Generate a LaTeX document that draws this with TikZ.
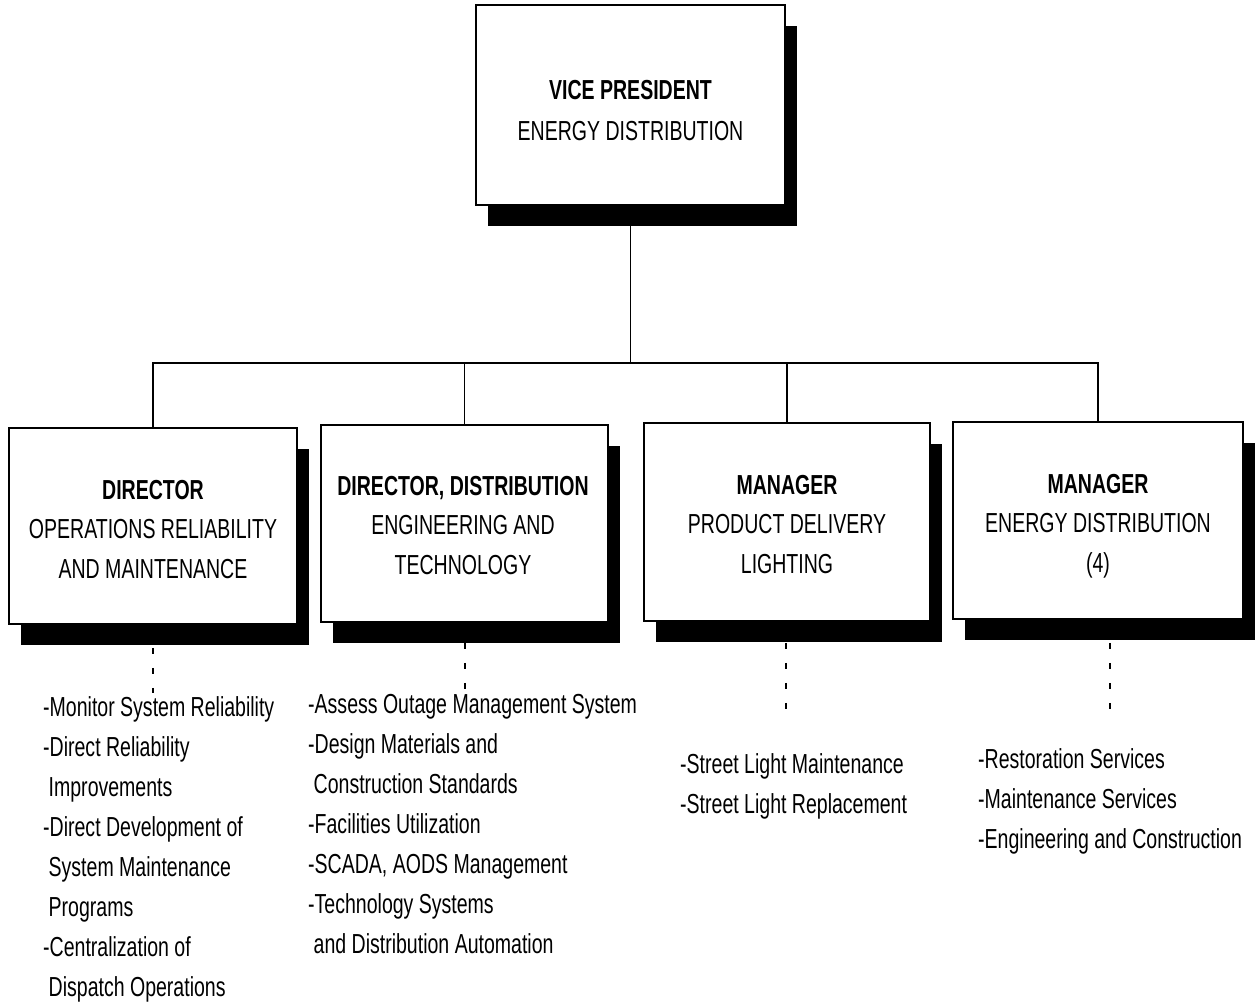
\documentclass[tikz,border=0pt]{standalone}
\usepackage{fontspec}
\setmainfont{Liberation Sans}[FakeStretch=0.71]
\usetikzlibrary{shadows}
\tikzset{
  orgbox/.style={draw=black, line width=1.8pt, fill=white, inner sep=0pt,
    drop shadow={shadow xshift=12pt, shadow yshift=-21pt, fill=black, opacity=1}},
  boxtext/.style={anchor=base, align=center, inner sep=0pt,
    font=\fontsize{27.5pt}{39.5pt}\selectfont},
  listtext/.style={anchor=base west, align=left, inner sep=0pt,
    font=\fontsize{27.5pt}{40pt}\selectfont},
  conn/.style={line width=1.8pt},
  dots/.style={line width=2.6pt, dash pattern=on 6pt off 14pt}
}
\newcommand{\ind}{\hspace*{5.5pt}}
\begin{document}
\begin{tikzpicture}[x=1pt,y=-1pt]
\useasboundingbox[fill=white] (0,0) rectangle (1256,1003);

% boxes
\node[orgbox, minimum width=309pt, minimum height=200pt] (vp) at (630.5,105) {};
\node[orgbox, minimum width=288pt, minimum height=196pt] (d1) at (153,526) {};
\node[orgbox, minimum width=287pt, minimum height=197pt] (d2) at (464.5,523.5) {};
\node[orgbox, minimum width=286pt, minimum height=198pt] (m1) at (787,522) {};
\node[orgbox, minimum width=290pt, minimum height=197pt] (m2) at (1098,520.5) {};

% box texts (anchored at the baseline of their last line)
\node[boxtext, font=\fontsize{27.5pt}{41pt}\selectfont] (vpt) at (630.5,141) {\textbf{VICE PRESIDENT}\\ENERGY DISTRIBUTION};
\node[boxtext] (d1t) at (153,578) {\textbf{DIRECTOR}\\OPERATIONS RELIABILITY\\AND MAINTENANCE};
\node[boxtext] (d2t) at (463,574) {\textbf{DIRECTOR, DISTRIBUTION}\\ENGINEERING AND\\TECHNOLOGY};
\node[boxtext] (m1t) at (787,573) {\textbf{MANAGER}\\PRODUCT DELIVERY\\LIGHTING};
\node[boxtext] (m2t) at (1098,572) {\textbf{MANAGER}\\ENERGY DISTRIBUTION\\(4)};

% connectors
\coordinate (bus) at (630.5,363);
\draw[conn] (vp.south) -- (bus);
\draw[conn] (d1.north) -- (d1.north |- bus) -- (m2.north |- bus) -- (m2.north);
\draw[conn] (d2.north) -- (d2.north |- bus);
\draw[conn] (m1.north) -- (m1.north |- bus);

% dotted links to task lists
\coordinate (e1) at (153,693);
\coordinate (e2) at (465,700);
\coordinate (e3) at (786,714);
\coordinate (e4) at (1110,712);
\draw[dots] ([yshift=-23pt]d1.south) -- (e1);
\draw[dots] ([xshift=0.5pt,yshift=-20pt]d2.south) -- (e2);
\draw[dots] ([xshift=-1pt,yshift=-21pt]m1.south) -- (e3);
\draw[dots] ([xshift=12pt,yshift=-23pt]m2.south) -- (e4);

% task lists (anchored at the baseline of their last line)
\node[listtext] (l1) at (43,996) {-Monitor System Reliability\\-Direct Reliability\\\ind Improvements\\-Direct Development of\\\ind System Maintenance\\\ind Programs\\-Centralization of\\\ind Dispatch Operations};
\node[listtext] (l2) at (308,953) {-Assess Outage Management System\\-Design Materials and\\\ind Construction Standards\\-Facilities Utilization\\-SCADA, AODS Management\\-Technology Systems\\\ind and Distribution Automation};
\node[listtext] (l3) at (680,813) {-Street Light Maintenance\\-Street Light Replacement};
\node[listtext] (l4) at (978,848) {-Restoration Services\\-Maintenance Services\\-Engineering and Construction};
\end{tikzpicture}
\end{document}
